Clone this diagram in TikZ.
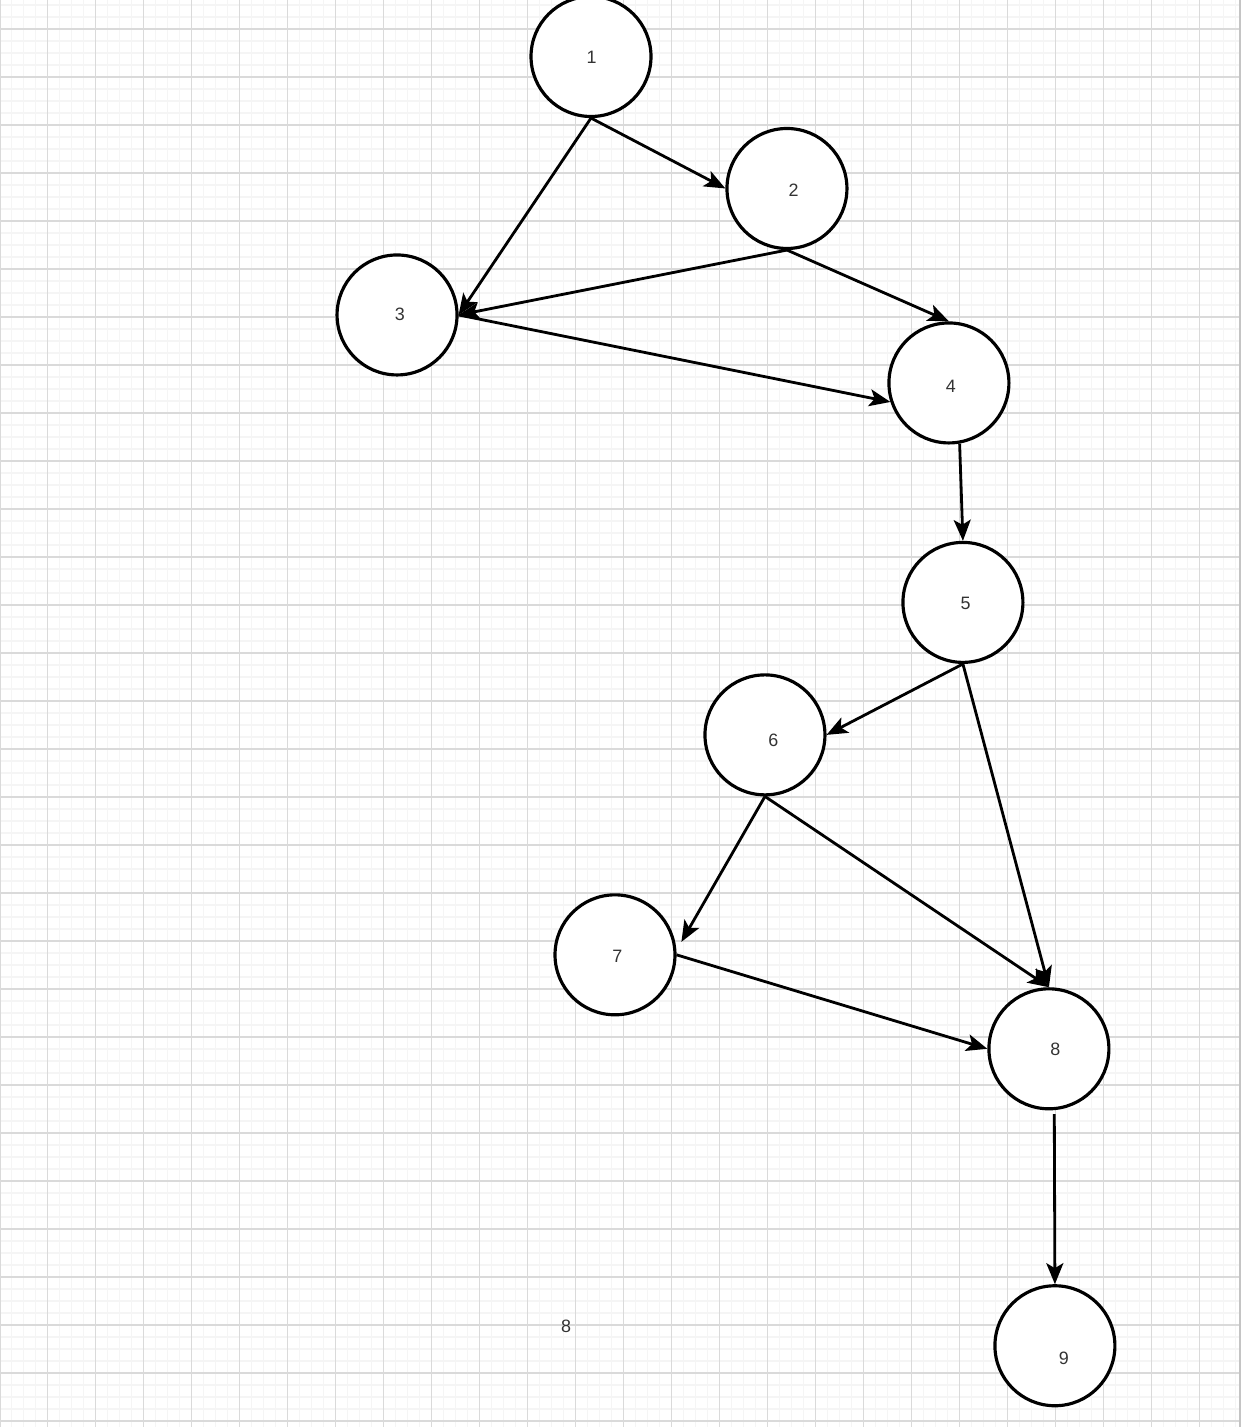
\documentclass[tikz,border=0pt]{standalone}
\usepackage{fontspec}
\setmainfont{Liberation Sans}
\usetikzlibrary{positioning,arrows.meta}

\definecolor{gridminor}{HTML}{F5F5F5}
\definecolor{gridmajor}{HTML}{DADADA}
\definecolor{barline}{HTML}{C4C4C4}

\begin{document}
\begin{tikzpicture}
[x=0.02cm,y=-0.02cm,
 var/.style={circle,draw=black,fill=white,line width=1.8pt,minimum size=2.4cm,inner sep=0mm},
 lbl/.style={font=\fontsize{10.2}{12}\selectfont,text=black!80,inner sep=0mm},
 minor/.style={gridminor,line width=0.6pt},
 major/.style={gridmajor,line width=0.6pt},
 >={Stealth[length=0.42cm,width=0.34cm,inset=0.1cm]},
 line width=1.6pt]
\useasboundingbox (0,0) rectangle (1241,1427);
\clip (0,0) rectangle (1241,1427);
\fill[white] (0,0) rectangle (1241,1427);

% grid paper
\foreach \gx in {11.3,23.3,...,1241} \draw[minor] (\gx,0) -- (\gx,1427);
\foreach \gy in {5,17,...,1427} \draw[minor] (0,\gy) -- (1241,\gy);
\foreach \gx in {47.3,95.3,...,1241} \draw[major] (\gx,0) -- (\gx,1427);
\foreach \gy in {29,77,...,1427} \draw[major] (0,\gy) -- (1241,\gy);
\draw[major] (0.5,0) -- (0.5,1427);
\fill[barline] (1238.5,0) rectangle (1241,1427);

\node[var,label={[lbl,shift={(0.7,1)}]center:1}] (n1) at (591,56.5) {};
\node[var,label={[lbl,shift={(6.7,1.5)}]center:2}] (n2) [on grid,below right=2.64cm and 3.92cm of n1] {};
\node[var,label={[lbl,shift={(2.7,-1)}]center:3}] (n3) [on grid,below  left=5.17cm and 3.88cm of n1] {};
\node[var,label={[lbl,shift={(2,3.7)}]center:4}] (n4) [on grid,below right=3.89cm and 3.24cm of n2] {};
\node[var,label={[lbl,shift={(2.7,1)}]center:5}] (n5) [on grid,below right=4.39cm and 0.28cm of n4] {};
\node[var,label={[lbl,shift={(8.3,5)}]center:6}] (n6) [on grid,below  left=2.65cm and 3.96cm of n5] {};
\node[var,label={[lbl,shift={(2.3,1.3)}]center:7}] (n7) [on grid,below  left=4.4cm and 3cm of n6] {};
\node[var,label={[lbl,shift={(6.5,1)}]center:8}] (n8) [on grid,below right=8.93cm and 1.72cm of n5] {};
\node[var,label={[lbl,shift={(9,13)}]center:9}] (n9) [on grid,below right=5.94cm and 0.12cm of n8] {};
\node[lbl] (t8) at (566,1326) {8};

\path[->] (n1.south) edge (n2.west);
\path[->] (n1.south) edge (n3.east);
\path[->] (n2.south) edge (n3.east);
\path[->] (n2.south) edge (n4.north);
\path[->] (n3.east)  edge (n4.198);
\path[->] (n4.-80)   edge (n5.north);
\path[->] (n5.south) edge (n6.east);
\path[->] (n5.south) edge (n8.north);
\path[->] (n6.south) edge[shorten >=0.2cm] (n7.4);
\path[->] (n6.south) edge (n8.north);
\path[->] (n7.east)  edge (n8.west);
\path[->] (n8.-85)   edge[shorten <=0.08cm] (n9.north);
\end{tikzpicture}
\end{document}
